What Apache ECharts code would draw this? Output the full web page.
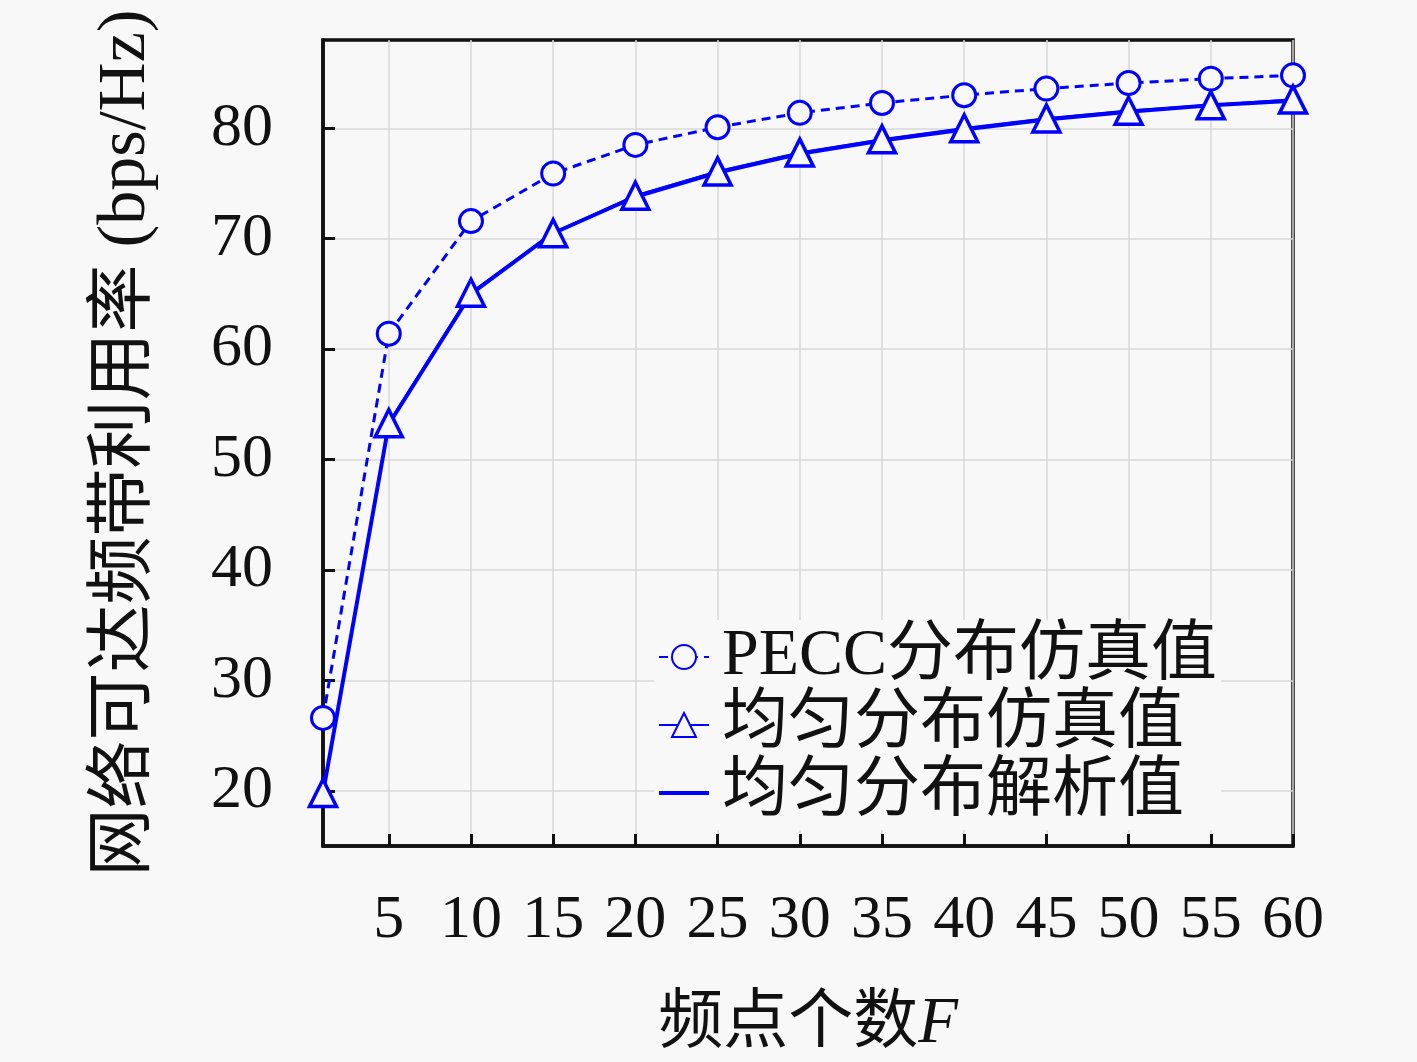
<!doctype html>
<html>
<head>
    <meta charset="UTF-8">
    <title>网络可达频带利用率</title>
    <script src="https://cdn.jsdelivr.net/npm/echarts@6/dist/echarts.min.js"></script>
    <style>
        html, body { margin: 0; padding: 0; background: #f8f8f8; }
        #main { width: 1417px; height: 1062px; }
    </style>
</head>
<body>
<div id="main"></div>
<script type="text/javascript">
    // 频点个数 F
    var freqPoints = [1, 5, 10, 15, 20, 25, 30, 35, 40, 45, 50, 55, 60];
    // PECC分布仿真值
    var peccSim = [26.6, 61.4, 71.6, 75.9, 78.5, 80.1, 81.4, 82.3, 83.0, 83.6, 84.1, 84.5, 84.8];
    // 均匀分布仿真值
    var uniformSim = [19.8, 53.3, 65.1, 70.5, 73.9, 76.1, 77.8, 79.0, 80.0, 80.9, 81.6, 82.1, 82.6];
    // 均匀分布解析值
    var uniformAna = [19.8, 53.2, 65.0, 70.5, 73.8, 76.0, 77.7, 78.9, 79.9, 80.8, 81.5, 82.1, 82.5];
    var xTicks = [5, 10, 15, 20, 25, 30, 35, 40, 45, 50, 55, 60];
    var yTicks = [20, 30, 40, 50, 60, 70, 80];

    function pairs(xs, ys) {
        var out = [];
        for (var i = 0; i < xs.length; i++) {
            out.push([xs[i], ys[i]]);
        }
        return out;
    }

    var serif = "'Liberation Serif', 'Noto Sans CJK SC', serif";
    var blue = '#0000ff';
    var bg = '#f8f8f8';

    var myChart = echarts.init(document.getElementById('main'));
    var option = {
        backgroundColor: bg,
        animation: false,
        grid: {
            left: 323,
            right: 124,
            top: 40,
            bottom: 216,
            show: true,
            borderColor: '#111',
            borderWidth: 3.5,
            backgroundColor: 'transparent'
        },
        legend: {
            left: 654,
            top: 620,
            orient: 'vertical',
            itemWidth: 50,
            itemHeight: 30,
            itemGap: 2,
            backgroundColor: bg,
            padding: [4, 4, 4, 4],
            textStyle: {
                fontFamily: serif,
                fontSize: 66,
                color: '#111',
                padding: [0, 0, 0, 8]
            },
            data: [
                'PECC分布仿真值',
                '均匀分布仿真值',
                { name: '均匀分布解析值', icon: 'path://M0,0H10V0.8H0Z' }
            ]
        },
        xAxis: {
            type: 'value',
            min: 1,
            max: 60,
            name: '{a|频点个数}{b|F}',
            nameLocation: 'middle',
            nameGap: 146,
            nameTextStyle: {
                rich: {
                    a: { fontFamily: serif, fontSize: 65, color: '#111' },
                    b: { fontFamily: serif, fontSize: 65, fontStyle: 'italic', color: '#111' }
                }
            },
            axisLine: { lineStyle: { color: '#111', width: 3.5 } },
            axisTick: {
                inside: true,
                length: 12,
                lineStyle: { color: '#111', width: 3 },
                customValues: xTicks
            },
            axisLabel: {
                fontFamily: serif,
                fontSize: 62,
                color: '#111',
                margin: 44,
                customValues: xTicks
            },
            splitLine: {
                show: true,
                lineStyle: { color: '#d8d8d8', width: 1.5 }
            }
        },
        yAxis: {
            type: 'value',
            min: 15,
            max: 88,
            name: '网络可达频带利用率 (bps/Hz)',
            nameLocation: 'middle',
            nameGap: 163,
            nameTextStyle: {
                fontFamily: serif,
                fontSize: 68,
                color: '#111'
            },
            axisLine: { lineStyle: { color: '#111', width: 3.5 } },
            axisTick: {
                inside: true,
                length: 12,
                lineStyle: { color: '#111', width: 3 },
                customValues: yTicks
            },
            axisLabel: {
                fontFamily: serif,
                fontSize: 62,
                color: '#111',
                margin: 50,
                customValues: yTicks
            },
            splitLine: {
                show: true,
                lineStyle: { color: '#d8d8d8', width: 1.5 }
            }
        },
        series: [
            {
                name: '均匀分布解析值',
                type: 'line',
                data: pairs(freqPoints, uniformAna),
                showSymbol: false,
                symbol: 'none',
                lineStyle: { color: blue, width: 4 },
                itemStyle: { color: blue },
                z: 2
            },
            {
                name: 'PECC分布仿真值',
                type: 'line',
                data: pairs(freqPoints, peccSim),
                symbol: 'circle',
                symbolSize: 23,
                lineStyle: { color: blue, width: 3, type: [9, 6] },
                itemStyle: { color: bg, borderColor: blue, borderWidth: 3 },
                z: 3
            },
            {
                name: '均匀分布仿真值',
                type: 'line',
                data: pairs(freqPoints, uniformSim),
                symbol: 'triangle',
                symbolSize: 27,
                lineStyle: { color: blue, width: 2.5 },
                itemStyle: { color: bg, borderColor: blue, borderWidth: 3.5 },
                z: 4
            }
        ]
    };
    myChart.setOption(option);
</script>
</body>
</html>
